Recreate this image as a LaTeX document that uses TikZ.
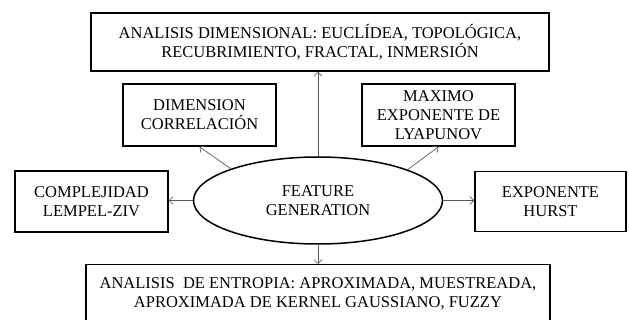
\documentclass[tikz,border=0pt]{standalone}
\usepackage{fontspec}
\setmainfont{Liberation Serif}
\usetikzlibrary{shapes.geometric,arrows.meta}
\begin{document}
\begin{tikzpicture}[x=1pt,y=-1pt,
  box/.style={draw=black,line width=1.5pt,inner sep=0pt,align=center,
    font=\fontsize{16.5}{19}\selectfont},
  conn/.style={draw=black!65,line width=0.7pt,-{Straight Barb[length=4pt,width=8pt]}}]
\useasboundingbox (0,0) rectangle (629,320);
\clip (0,0) rectangle (629,320);
\node[box,minimum width=458pt,minimum height=58pt] (top) at (320,42)
  {ANALISIS DIMENSIONAL: EUCLÍDEA, TOPOLÓGICA,\\RECUBRIMIENTO, FRACTAL, INMERSIÓN};
\node[box,minimum width=153pt,minimum height=62pt] (dim) at (199.5,115)
  {DIMENSION\\CORRELACIÓN};
\node[box,minimum width=153pt,minimum height=62pt] (lya) at (438.5,115)
  {MAXIMO\\EXPONENTE DE\\LYAPUNOV};
\node[box,minimum width=153pt,minimum height=61pt] (lz) at (91.5,201.5)
  {COMPLEJIDAD\\LEMPEL-ZIV};
\node[box,minimum width=151pt,minimum height=60pt] (hur) at (550.5,201.5)
  {EXPONENTE\\HURST};
\node[box,ellipse,minimum width=249pt,minimum height=87pt] (ell) at (318,200.5)
  {FEATURE\\GENERATION};
\node[box,anchor=north,minimum width=464pt,minimum height=58pt] (ent) at (318,264)
  {ANALISIS\ \ DE ENTROPIA: APROXIMADA, MUESTREADA,\\APROXIMADA DE KERNEL GAUSSIANO, FUZZY};
\draw[conn] (ell.north) -- (ell.north |- top.south);
\draw[conn] (ell.160.6) -- (dim.south);
\draw[conn] (ell.19.2) -- (lya.south);
\draw[conn] (ell.west) -- (ell.west -| lz.east);
\draw[conn] (ell.east) -- (ell.east -| hur.west);
\draw[conn] (ell.south) -- (ent.north);
\end{tikzpicture}
\end{document}
